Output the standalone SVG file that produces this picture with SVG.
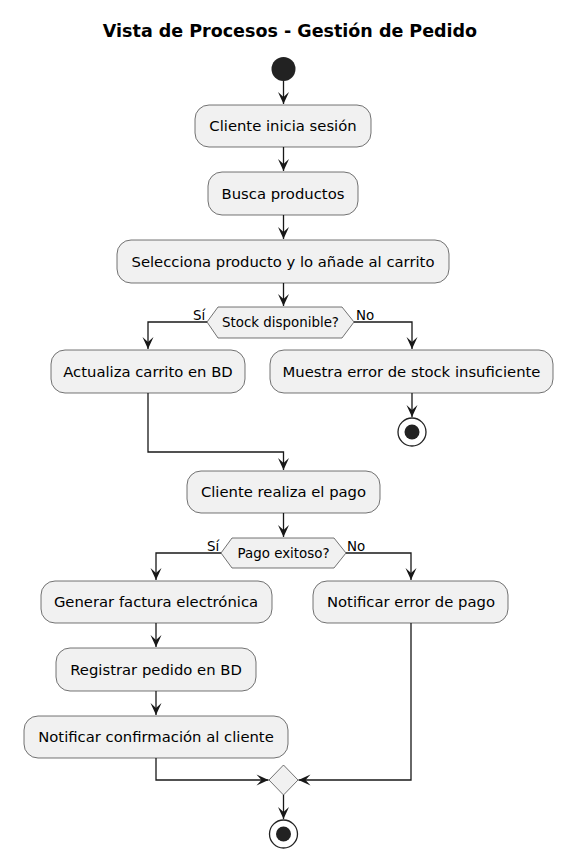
<svg xmlns="http://www.w3.org/2000/svg" width="575" height="856" viewBox="0 0 575 856">
<style>
.bg{fill:#FFFFFF}
.title{font-family:"DejaVu Sans",sans-serif;font-weight:bold;font-size:17.5px;fill:#000000;text-anchor:middle}
.act rect{fill:#F1F1F1;stroke:#181818;stroke-width:0.6}
.act text{font-family:"DejaVu Sans",sans-serif;font-size:14.8px;fill:#000000;text-anchor:middle}
.dec polygon{fill:#F1F1F1;stroke:#181818;stroke-width:0.6}
.dec text{font-family:"DejaVu Sans",sans-serif;font-size:13.4px;fill:#000000;text-anchor:middle}
.lbl{font-family:"DejaVu Sans",sans-serif;font-size:13.4px;fill:#000000}
.edge{fill:none;stroke:#181818;stroke-width:1.3}
.start{fill:#222222}
.stopO{fill:#FFFFFF;stroke:#222222;stroke-width:1.3}
.stopI{fill:#222222}
</style>
<defs>
<marker id="arr" markerUnits="userSpaceOnUse" viewBox="-13 -6 14 12" markerWidth="14" markerHeight="12" refX="0" refY="0" orient="auto">
<path d="M0,0 L-12,-5.5 L-7,0 L-12,5.5 Z" fill="#181818"/>
</marker>
</defs>
<rect class="bg" x="0" y="0" width="575" height="856"/>
<text class="title" x="290" y="37">Vista de Procesos - Gestión de Pedido</text>

<g id="edges">
<path class="edge" d="M283.5,81 L283.5,104" marker-end="url(#arr)"/>
<path class="edge" d="M283.5,147 L283.5,171" marker-end="url(#arr)"/>
<path class="edge" d="M283.5,215 L283.5,239" marker-end="url(#arr)"/>
<path class="edge" d="M283.5,283 L283.5,306" marker-end="url(#arr)"/>
<path class="edge" d="M207,322 L148,322 L148,349" marker-end="url(#arr)"/>
<path class="edge" d="M354,322 L412,322 L412,349" marker-end="url(#arr)"/>
<path class="edge" d="M412,393 L412,417" marker-end="url(#arr)"/>
<path class="edge" d="M148,393 L148,452 L283.5,452 L283.5,470" marker-end="url(#arr)"/>
<path class="edge" d="M283.5,513 L283.5,537" marker-end="url(#arr)"/>
<path class="edge" d="M221,553 L156,553 L156,580" marker-end="url(#arr)"/>
<path class="edge" d="M346,553 L411,553 L411,580" marker-end="url(#arr)"/>
<path class="edge" d="M156,623 L156,647" marker-end="url(#arr)"/>
<path class="edge" d="M156,691 L156,715" marker-end="url(#arr)"/>
<path class="edge" d="M156,758 L156,780 L268.5,780" marker-end="url(#arr)"/>
<path class="edge" d="M411,623 L411,780 L298.5,780" marker-end="url(#arr)"/>
<path class="edge" d="M283.5,795 L283.5,819" marker-end="url(#arr)"/>
<text class="lbl" x="193" y="320">Sí</text>
<text class="lbl" x="356" y="320">No</text>
<text class="lbl" x="207" y="551">Sí</text>
<text class="lbl" x="347" y="551">No</text>
</g>

<g id="start"><circle class="start" cx="283.5" cy="69" r="12"/></g>

<g id="n1" class="act"><rect x="195" y="105" width="176" height="42" rx="14"/><text x="283" y="131">Cliente inicia sesión</text></g>
<g id="n2" class="act"><rect x="208" y="172" width="150" height="43" rx="14"/><text x="283" y="199">Busca productos</text></g>
<g id="n3" class="act"><rect x="117" y="240" width="332" height="43" rx="14"/><text x="283" y="267">Selecciona producto y lo añade al carrito</text></g>
<g id="d1" class="dec"><polygon points="207,322 218,307 342,307 354,322 342,338 218,338"/><text x="280.5" y="327">Stock disponible?</text></g>
<g id="n4" class="act"><rect x="51" y="350" width="194" height="43" rx="14"/><text x="148" y="377">Actualiza carrito en BD</text></g>
<g id="n5" class="act"><rect x="270" y="350" width="283" height="43" rx="14"/><text x="411.5" y="377">Muestra error de stock insuficiente</text></g>
<g id="stop1"><circle class="stopO" cx="412" cy="432" r="14"/><circle class="stopI" cx="412" cy="432" r="7.5"/></g>
<g id="n6" class="act"><rect x="187" y="471" width="193" height="42" rx="14"/><text x="283.5" y="497">Cliente realiza el pago</text></g>
<g id="d2" class="dec"><polygon points="221,553 232,538 334,538 346,553 334,568 232,568"/><text x="283.5" y="558">Pago exitoso?</text></g>
<g id="n7" class="act"><rect x="41" y="581" width="231" height="42" rx="14"/><text x="156" y="607">Generar factura electrónica</text></g>
<g id="n8" class="act"><rect x="313" y="581" width="195" height="42" rx="14"/><text x="411" y="607">Notificar error de pago</text></g>
<g id="n9" class="act"><rect x="56" y="648" width="200" height="43" rx="14"/><text x="156" y="675">Registrar pedido en BD</text></g>
<g id="n10" class="act"><rect x="24" y="716" width="264" height="42" rx="14"/><text x="156" y="742">Notificar confirmación al cliente</text></g>
<g id="merge" class="dec"><polygon points="283.5,765 298,780 283.5,795 269,780"/></g>
<g id="stop2"><circle class="stopO" cx="283.5" cy="834" r="14"/><circle class="stopI" cx="283.5" cy="834" r="7.5"/></g>
</svg>
